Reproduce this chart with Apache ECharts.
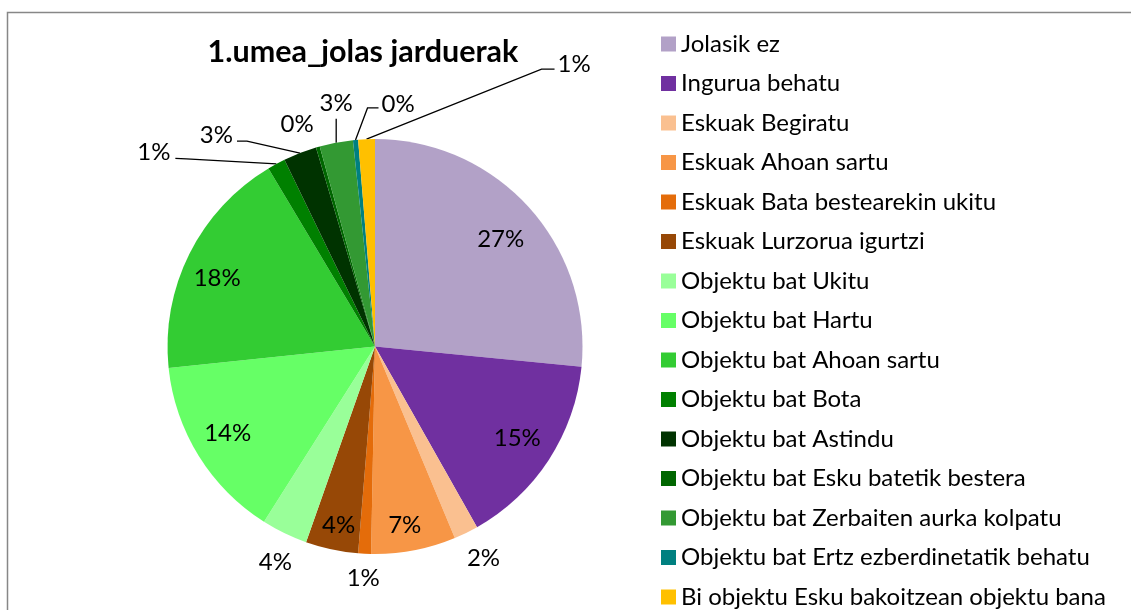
<!DOCTYPE html>
<html><head><meta charset="utf-8">
<script src="https://cdn.jsdelivr.net/npm/echarts@6/dist/echarts.min.js"></script>
<style>html,body{margin:0;padding:0;background:#fff}#c{width:1131px;height:610px}</style>
</head><body><div id="c"></div>
<script>
// ---- data ----
const chartTitle = '1.umea_jolas jarduerak';
const categories = [
  'Jolasik ez', 'Ingurua behatu', 'Eskuak Begiratu', 'Eskuak Ahoan sartu',
  'Eskuak Bata bestearekin ukitu', 'Eskuak Lurzorua igurtzi', 'Objektu bat Ukitu',
  'Objektu bat Hartu', 'Objektu bat Ahoan sartu', 'Objektu bat Bota', 'Objektu bat Astindu',
  'Objektu bat Esku batetik bestera', 'Objektu bat Zerbaiten aurka kolpatu',
  'Objektu bat Ertz ezberdinetatik behatu', 'Bi objektu Esku bakoitzean objektu bana'
];
const values = [26.6, 15.3, 1.9, 6.6, 1.0, 4.1, 3.6, 14.4, 18.1, 1.4, 2.6, 0.3, 2.6, 0.4, 1.3];
const colors = ['#B2A1C7', '#7030A0', '#FAC090', '#F79646', '#E46C0A', '#974806', '#99FF99',
  '#66FF66', '#33CC33', '#008000', '#003300', '#006600', '#339933', '#008080', '#FFC000'];

// ---- label placement (style config) ----
const insideNudge = { // small shifts of inside labels from the library's position
  0: [0, 7], 1: [0, -1], 3: [-2, 12], 5: [-1, 13], 7: [-3, -3], 8: [-6, 8]
};
const outsideNoLine = { // length, length2
  2: [28, 5], 4: [25, 0], 6: [32, -5], 11: [24, 14]
};
const leader = { // offsets relative to the slice edge point given by the library
  9: { line: [[-90, -5], [-101, -5.5]], text: [-106, -12], align: 'right' },
  10: { line: [[-53, -12], [-63, -12]], text: [-67, -18], align: 'right' },
  12: { line: [[0, -24]], text: [0, -39], align: 'center' },
  13: { line: [[12, -32], [23, -32]], text: [26, -35.5], align: 'left' },
  14: { line: [[175, -70], [188, -70]], text: [191, -75], align: 'left' }
};

const FONT = 'Lato';
const CENTER = [375, 346.5];
const R = 207.5;
const pctFmt = p => Math.round(p.percent) + '%';
const labelText = { color: '#000', fontFamily: FONT, fontSize: 24, lineHeight: 24 };
const isInside = i => insideNudge[i] !== undefined;

const mainData = categories.map((name, i) => {
  const item = { name, value: values[i], itemStyle: { color: colors[i] } };
  if (isInside(i)) {
    item.label = { show: false };
    item.labelLine = { show: false };
  } else if (outsideNoLine[i]) {
    item.label = { show: true, position: 'outside', distanceToLabelLine: -16.5 };
    item.labelLine = { show: false, length: outsideNoLine[i][0], length2: outsideNoLine[i][1] };
  } else {
    item.label = { show: true, position: 'outside' };
    item.labelLine = { show: true, length: 10, length2: 10 };
  }
  return item;
});

const ringData = categories.map((name, i) => ({
  name, value: values[i],
  itemStyle: { color: 'rgba(0,0,0,0)' },
  label: { show: isInside(i) }
}));

const chart = echarts.init(document.getElementById('c'), null, { renderer: 'canvas' });
chart.setOption({
  backgroundColor: '#fff',
  animation: false,
  title: {
    text: chartTitle, left: 363, top: 37, textAlign: 'center', padding: 0,
    textStyle: { fontFamily: FONT, fontSize: 30.5, fontWeight: 'bold', color: '#000', lineHeight: 30 }
  },
  legend: {
    orient: 'vertical', left: 661, top: 32, padding: 0,
    icon: 'rect', itemWidth: 15, itemHeight: 15, itemGap: 15.5,
    data: categories,
    textStyle: { fontFamily: FONT, fontSize: 24, lineHeight: 24, color: '#000' }
  },
  graphic: [{
    type: 'rect', silent: true,
    shape: { x: 7.5, y: 12.5, width: 1300, height: 700 },
    style: { fill: null, stroke: '#878787', lineWidth: 1.5 }
  }],
  series: [{
    type: 'pie', center: CENTER, radius: [0, R], startAngle: 90, clockwise: true,
    avoidLabelOverlap: false, minShowLabelAngle: 0,
    label: Object.assign({ formatter: pctFmt }, labelText),
    labelLine: { lineStyle: { color: '#000', width: 1.3 } },
    labelLayout: function (p) {
      const spec = leader[p.dataIndex];
      if (!spec || !p.labelLinePoints) return {};
      const e = p.labelLinePoints[0];
      const pts = [[e[0], e[1]]].concat(spec.line.map(o => [e[0] + o[0], e[1] + o[1]]));
      return {
        x: e[0] + spec.text[0], y: e[1] + spec.text[1],
        align: spec.align, verticalAlign: 'middle',
        labelLinePoints: pts
      };
    },
    emphasis: { disabled: true },
    itemStyle: { borderWidth: 0 },
    data: mainData
  }, {
    type: 'pie', center: CENTER, radius: [126, R], startAngle: 90, clockwise: true,
    silent: true, avoidLabelOverlap: false,
    label: Object.assign({ position: 'inside', formatter: pctFmt }, labelText),
    labelLine: { show: false },
    labelLayout: function (p) {
      const n = insideNudge[p.dataIndex];
      if (!n || !p.labelRect) return {};
      const r = p.labelRect;
      return {
        x: r.x + r.width / 2 + n[0], y: r.y + r.height / 2 + n[1],
        align: 'center', verticalAlign: 'middle'
      };
    },
    emphasis: { disabled: true },
    itemStyle: { borderWidth: 0 },
    data: ringData
  }]
});
</script></body></html>
